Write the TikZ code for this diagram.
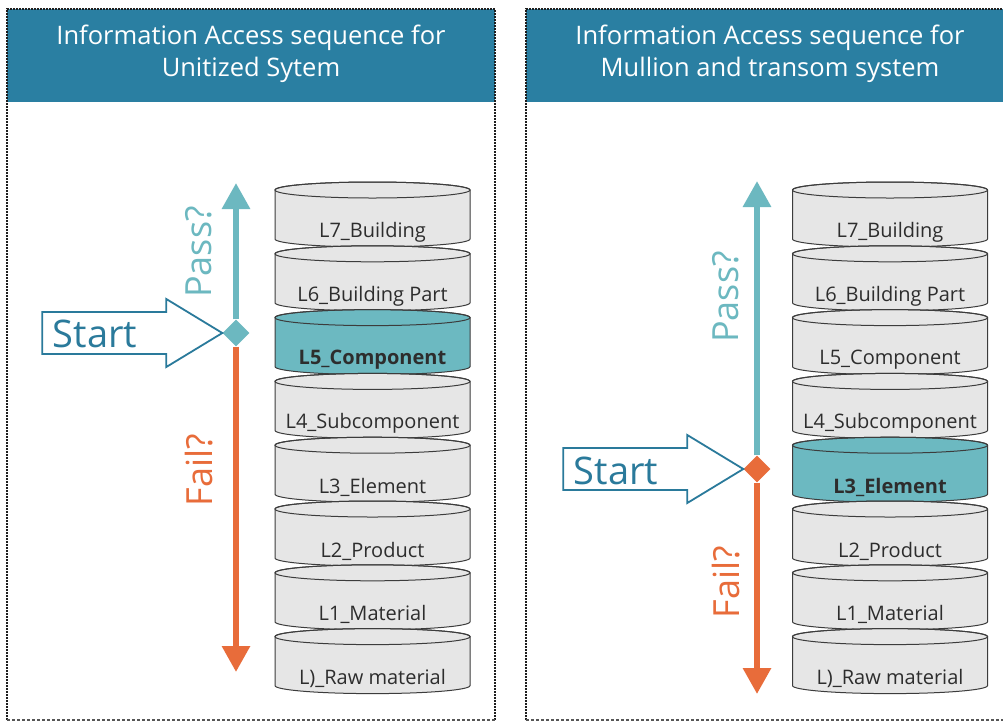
\documentclass[tikz,border=0pt]{standalone}
\usepackage{fontspec}
\setmainfont{Open Sans}
\usetikzlibrary{arrows.meta,shapes.geometric}
\definecolor{hdr}{RGB}{42,127,162}
\definecolor{passc}{RGB}{108,184,192}
\definecolor{failc}{RGB}{232,108,58}
\definecolor{startc}{RGB}{42,122,155}
\definecolor{cylgray}{RGB}{230,230,230}
\definecolor{cylteal}{RGB}{108,185,193}
\definecolor{cylline}{RGB}{60,60,60}
\definecolor{txt}{RGB}{45,45,45}
\definecolor{borderc}{RGB}{30,30,30}
\newcommand\mycyl[5]{%
  \path[cylbody,fill=#4] (#2-97.5,#3+8) -- (#2-97.5,#3+57)
     arc[start angle=180,end angle=0,x radius=97.5,y radius=8]
     -- (#2+97.5,#3+8)
     arc[start angle=0,end angle=-180,x radius=97.5,y radius=8] -- cycle;
  \draw[cylbody] (#2,#3+8) ellipse[x radius=97.5,y radius=8];
  \node[cyllabel] (#1) at (#2,#3+50) {#5};
}
\begin{document}
\begin{tikzpicture}[x=1pt,y=-1pt,
  cylbody/.style={draw=cylline,line width=1pt},
  cyllabel/.style={font=\fontsize{20}{24}\selectfont,text=txt,inner sep=0pt},
  hdrtext/.style={font=\fontsize{25.5}{32}\selectfont,text=white,align=center},
  panelside/.style={draw=borderc,line width=2pt,dash pattern=on 1.6pt off 1.4pt},
  panelbottom/.style={draw=borderc!75,line width=1.2pt,dash pattern=on 3pt off 2pt},
  dec/.style={diamond,inner sep=0pt,minimum size=27pt},
  passarrow/.style={draw=passc,line width=6pt,-{Triangle[width=27pt,length=26pt]}},
  failarrow/.style={draw=failc,line width=6pt,-{Triangle[width=27pt,length=26pt]}},
  startarrow/.style={draw=startc,line width=1.8pt,fill=white,line join=miter},
  starttext/.style={font=\fontsize{38}{44}\selectfont,text=startc,inner sep=0pt},
  passtext/.style={font=\fontsize{36}{40}\selectfont,text=passc,rotate=90,inner sep=0pt},
  failtext/.style={font=\fontsize{36}{40}\selectfont,text=failc,rotate=90,inner sep=0pt}
]
\useasboundingbox (0,0) rectangle (1003,724);
\fill[white] (0,0) rectangle (1003,724);

% ---------- left panel ----------
\fill[hdr] (7,9) rectangle (495,102);
\draw[panelside] (7,720) -- (7,9) -- (495,9) -- (495,720);
\draw[panelbottom] (7,720) -- (495,720);
\node[hdrtext] (h1) at (251,54) {Information Access sequence for\\Unitized Sytem};

% ---------- right panel ----------
\fill[hdr] (526,9) rectangle (1014,102);
\draw[panelside] (526,720) -- (526,9) -- (1014,9);
\draw[panelbottom] (526,720) -- (1014,720);
\node[hdrtext] (h2) at (770,54) {Information Access sequence for\\Mullion and transom system};

% ---------- cylinders left ----------
\mycyl{a7}{372.5}{182}{cylgray}{L7\_Building}
\mycyl{a6}{372.5}{245.8}{cylgray}{L6\_Building Part}
\mycyl{a5}{372.5}{309.6}{cylteal}{\textbf{L5\_Component}}
\mycyl{a4}{372.5}{373.4}{cylgray}{L4\_Subcomponent}
\mycyl{a3}{372.5}{437.2}{cylgray}{L3\_Element}
\mycyl{a2}{372.5}{501}{cylgray}{L2\_Product}
\mycyl{a1}{372.5}{564.8}{cylgray}{L1\_Material}
\mycyl{a0}{372.5}{628.6}{cylgray}{L)\_Raw material}

% ---------- cylinders right ----------
\mycyl{b7}{890}{182}{cylgray}{L7\_Building}
\mycyl{b6}{890}{245.8}{cylgray}{L6\_Building Part}
\mycyl{b5}{890}{309.6}{cylgray}{L5\_Component}
\mycyl{b4}{890}{373.4}{cylgray}{L4\_Subcomponent}
\mycyl{b3}{890}{437.2}{cylteal}{\textbf{L3\_Element}}
\mycyl{b2}{890}{501}{cylgray}{L2\_Product}
\mycyl{b1}{890}{564.8}{cylgray}{L1\_Material}
\mycyl{b0}{890}{628.6}{cylgray}{L)\_Raw material}

% ---------- left decision ----------
\node[dec,fill=passc] (d1) at (236,333) {};
\coordinate (pt1) at (236,183);
\coordinate (ft1) at (236,672);
\draw[passarrow] (d1.north) -- (pt1);
\draw[failarrow] (d1.south) -- (ft1);
\draw[startarrow] (d1.west) -- ++(-56,-34) -- ++(0,13) -- ++(-124,0) -- ++(0,42) -- ++(124,0) -- ++(0,13) -- cycle;
\node[starttext] (s1) at (95,334) {Start};
\node[passtext] (p1) at (199,252) {Pass?};
\node[failtext] (f1) at (199,470) {Fail?};

% ---------- right decision ----------
\node[dec,fill=failc] (d2) at (757,469) {};
\coordinate (pt2) at (757,181);
\coordinate (ft2) at (757,694);
\draw[passarrow] (d2.north) -- (pt2);
\draw[failarrow] (d2.south) -- (ft2);
\draw[startarrow] (d2.west) -- ++(-56,-34) -- ++(0,13) -- ++(-124,0) -- ++(0,42) -- ++(124,0) -- ++(0,13) -- cycle;
\node[starttext] (s2) at (616,471) {Start};
\node[passtext] (p2) at (726,297) {Pass?};
\node[failtext] (f2) at (726,582) {Fail?};
\end{tikzpicture}
\end{document}
